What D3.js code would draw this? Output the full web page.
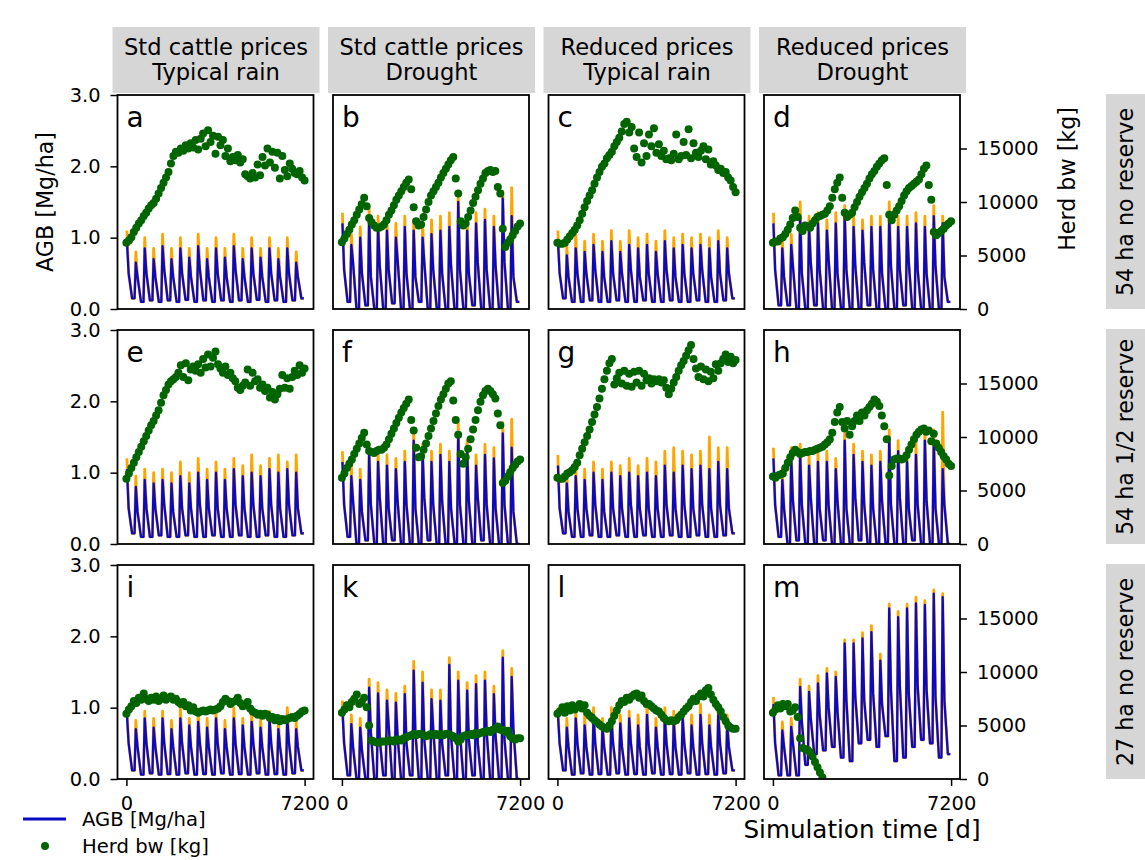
<!DOCTYPE html>
<html>
<head>
<meta charset="utf-8">
<script src="https://cdn.jsdelivr.net/npm/d3@7"></script>
<style>
  body { margin: 0; background: #fff; }
  text { font-family: "DejaVu Sans", sans-serif; fill: #000; }
</style>
</head>
<body>
<svg id="chart" width="1145" height="860"></svg>
<script>
// column / row headers
var colTitles = [["Std cattle prices", "Typical rain"], ["Std cattle prices", "Drought"],
                 ["Reduced prices", "Typical rain"], ["Reduced prices", "Drought"]];
var rowTitles = ["54 ha no reserve", "54 ha 1/2 reserve", "27 ha no reserve"];
var panelLetters = ["a", "b", "c", "d", "e", "f", "g", "h", "i", "k", "l", "m"];
var agbTicks = [0, 1, 2, 3];
var herdTicks = [0, 5000, 10000, 15000];
var timeTicks = [0, 7200];

// herd body weight [kg], one value every 100 days
var herdA = [6200,6400,6700,7200,7600,8000,8300,8700,9000,9400,
  9700,9900,10300,10800,11300,11800,12300,12800,13600,14300,
  14700,14600,15000,14800,15300,15000,15500,15100,15800,14900,
  15900,16400,15200,16700,15600,16200,14500,16100,15300,15800,
  14300,15000,13800,14200,13900,14400,13700,14000,12600,12400,
  12200,12700,12300,13500,12500,14200,13400,15000,13700,14700,
  13200,14600,12200,14300,13000,12400,13600,13100,12700,12600,
  12900,12300,12000];
var herdB = [6250,6600,7000,7400,7900,8300,8800,9300,9800,10400,
  9600,8500,8100,7800,7600,7600,7700,7900,8300,8800,
  9200,9700,10200,10600,11000,11400,11800,12100,11200,9500,
  8200,7800,7900,8600,9300,10000,10600,11000,11400,11800,
  12300,12700,13100,13500,13900,14200,12200,10800,8200,7800,
  8000,8600,9200,9900,10500,11100,11700,12200,12700,12900,
  13000,12800,12900,11400,10800,7500,5800,6200,6500,6900,
  7300,7700,8000];
var herdC = [6200,6100,6100,6200,6500,6800,7100,7400,7800,8300,
  8900,9500,10100,10600,11100,11700,12300,12800,13300,13600,
  14100,14400,14700,15200,15600,16000,16600,17300,17500,16500,
  17000,15000,14200,16500,13700,15500,14300,16300,15200,16900,
  14600,15400,14300,14800,14000,14100,13900,14500,16300,14000,
  14300,15600,14400,16800,14100,15500,14600,14200,14800,15200,
  14000,14900,13500,13800,13400,13000,13100,12700,12800,12300,
  12000,11400,10900];
var herdD = [6200,6300,6300,6600,6700,7000,7400,7900,8500,9200,
  8600,7600,7300,7800,7700,7600,8000,8300,8600,8700,
  8800,8900,9200,9600,10400,11200,11800,12300,10400,9000,
  8600,8800,9000,9500,10000,10500,10900,11300,11700,12200,
  12600,12900,13300,13600,13900,14100,11600,8800,8300,8800,
  9200,9600,10100,10600,11000,11300,11500,11700,11900,12100,
  12600,13100,13400,11600,10200,7200,6900,7100,7300,7500,
  7800,8000,8200];
var herdE = [6100,6600,7100,7600,8100,8600,9100,9600,10100,10600,
  11100,11500,12000,12500,13200,13900,14400,14900,15200,15400,
  15600,16000,16700,15600,16900,15300,16300,16600,16200,16800,
  16000,17300,16500,17700,16600,17400,18000,16800,16400,16000,
  16600,15800,16000,15500,15200,14600,14400,14800,15100,16300,
  14800,16000,15200,15400,14600,14900,14300,14600,13700,14200,
  13500,14000,14500,15800,14600,15500,14500,15600,16200,15800,
  16700,16000,16400];
var herdF = [6200,6600,7100,7500,7900,8400,8900,9400,9900,10400,
  9300,8700,8600,8500,8700,8800,8800,9000,9300,9800,
  10300,10800,11300,11800,12300,12700,13100,13500,11600,10600,
  9000,8100,8200,8800,9400,10100,10800,11500,12200,12900,
  13500,14000,14500,15000,15200,13400,11600,10200,8400,7500,
  8100,8900,9800,10700,11600,12500,13300,13900,14300,14500,
  14300,14000,13600,12200,11100,5700,5900,6300,6700,7100,
  7400,7700,7900];
var herdG = [6200,6100,6100,6300,6600,6700,6900,7200,7600,8300,
  8900,9500,10100,10700,11400,12100,12800,13600,14500,15400,
  16200,16900,17300,14900,15500,16000,15000,16200,14800,15900,
  14700,16100,15100,16200,14800,15900,15300,15500,15000,15400,
  15200,15400,15100,15300,14600,14000,14500,15100,15600,16200,
  16700,17100,17600,18100,18600,17300,16400,15600,16600,15400,
  16300,15200,16100,15500,16800,16200,16900,17300,17700,17000,
  17500,16900,17200];
var herdH = [6300,6200,6400,6500,6600,7100,7600,8100,8500,8800,
  8600,8400,8500,8600,8600,8700,8700,8800,8900,9000,
  9100,9300,9500,9800,10400,11400,12300,12800,11400,10800,
  11500,10200,11000,11500,12000,11500,12300,12000,12500,12800,
  13100,13500,13300,12900,12000,11000,9800,6400,7300,7900,
  8000,8000,7900,8000,8300,8800,9300,9800,10200,10500,
  10700,10800,10500,10600,9600,10300,9400,9000,8600,8200,
  7900,7500,7300];
var herdI = [6100,6500,6800,7300,7100,7600,7400,8000,7500,7300,
  7600,7400,7700,7300,7500,7800,7400,7600,7700,7400,
  7500,7200,7000,7200,6800,6900,6400,6700,6300,6200,
  6300,6400,6300,6400,6500,6400,6500,6600,6800,7200,
  7500,7300,7000,7200,7300,7600,7100,6800,6900,7200,
  6600,6300,6200,6000,6100,5900,6100,6000,5700,5800,
  5500,5700,5400,5600,5500,5600,5700,5800,5700,5900,
  6100,6300,6400];
var herdK = [6200,6500,6900,6700,7200,7500,7900,7000,7200,7600,
  6700,5000,3600,3500,3400,3400,3500,3500,3500,3600,
  3600,3500,3700,3700,3600,3800,3900,4000,4100,4200,
  4100,4200,4200,4100,4000,4100,4200,4100,4200,4100,
  4200,4100,4200,4200,4100,4000,3800,3500,3700,4000,
  4100,4100,4200,4100,4300,4200,4300,4400,4400,4500,
  4400,4600,4700,4900,4600,4600,4400,4500,4000,3800,
  3700,3800,3800];
var herdL = [6100,6300,6700,6200,6800,6400,6900,6500,6700,7000,
  6600,6900,6200,5900,5700,5500,5300,5100,4900,4800,
  4700,5000,5400,5900,6400,6900,7300,7200,7600,7400,
  7700,7900,8000,7600,7800,7300,7000,7000,6800,6600,
  6400,6300,6000,5700,5500,5400,5500,5400,5500,5800,
  6000,6300,6600,6800,7200,7500,7300,7700,8000,7700,
  8300,8500,7900,7400,7000,6700,6300,5800,5400,5000,
  4800,4700,4700];
var herdM = [6200,6500,6900,6600,7000,6800,7000,6300,6400,6700,
  5800,3800,2900,2800,2700,2500,2100,1600,1100,600,150];

// AGB [Mg/ha], per simulated year: main peak, orange peak, shoulder after the peak, low
var peakA = [0.95,0.65,0.85,0.7,0.88,0.7,0.85,0.72,0.88,0.7,0.85,0.72,0.88,0.7,0.85,0.72,0.85,0.7,0.85,0.65];
var orangeA = [1.1,0.8,1.0,0.85,1.05,0.85,1.0,0.85,1.05,0.85,1.0,0.85,1.05,0.85,1.0,0.85,1.0,0.85,1.0,0.8];
var secondA = [0.5,0.45,0.5,0.45,0.55,0.45,0.5,0.45,0.55,0.45,0.5,0.45,0.55,0.45,0.5,0.45,0.5,0.45,0.5,0.45];
var lowA = [0.15,0.1,0.12,0.1,0.12,0.1,0.13,0.1,0.12,0.1,0.12,0.1,0.12,0.1,0.13,0.1,0.12,0.1,0.12,0.15];

var peakB = [1.2,0.9,1.0,1.25,1.15,1.1,1.0,1.15,1.1,1.0,1.05,1.1,1.15,1.5,1.1,1.2,1.25,1.15,1.55,1.3];
var orangeB = [1.35,1.05,1.15,1.4,1.3,1.25,1.2,1.3,1.25,1.2,1.25,1.3,1.35,1.6,1.3,1.35,1.4,1.3,1.65,1.7];
var secondB = [0.55,0.65,0.5,0.45,0.6,0.55,0.7,0.5,0.45,0.65,0.55,0.5,0.6,0.55,0.5,0.65,0.55,0.6,0.65,0.45];
var lowB = [0.1,0.0,0.05,0.0,0.0,0.08,0.0,0.0,0.1,0.0,0.02,0.0,0.0,0.0,0.05,0.0,0.0,0.0,0.0,0.1];

var peakC = [0.95,0.75,0.85,0.8,0.9,0.8,0.95,0.8,0.9,0.85,0.9,0.8,0.95,0.85,0.9,0.85,0.9,0.85,0.95,0.85];
var orangeC = [1.1,0.9,1.05,0.95,1.05,0.95,1.1,0.95,1.1,1.0,1.05,0.95,1.1,1.0,1.05,1.0,1.05,1.0,1.1,1.0];
var secondC = [0.5,0.45,0.5,0.5,0.55,0.45,0.5,0.5,0.55,0.45,0.5,0.5,0.55,0.45,0.5,0.5,0.55,0.45,0.5,0.5];
var lowC = [0.15,0.1,0.1,0.12,0.1,0.1,0.12,0.1,0.1,0.12,0.1,0.1,0.12,0.1,0.1,0.12,0.1,0.1,0.12,0.15];

var peakD = [1.2,0.85,0.9,1.3,1.15,1.2,1.1,1.2,1.3,1.15,1.1,1.15,1.15,1.3,1.15,1.15,1.2,1.15,1.3,1.2];
var orangeD = [1.35,1.0,1.05,1.5,1.3,1.35,1.25,1.35,1.45,1.3,1.25,1.3,1.3,1.5,1.3,1.3,1.35,1.3,1.45,1.3];
var secondD = [0.55,0.45,0.6,0.5,0.65,0.55,0.7,0.5,0.55,0.6,0.65,0.55,0.5,0.6,0.55,0.65,0.55,0.5,0.6,0.45];
var lowD = [0.05,0.05,0.0,0.0,0.05,0.0,0.0,0.02,0.0,0.0,0.05,0.0,0.0,0.0,0.05,0.0,0.0,0.0,0.0,0.1];

var peakE = [1.05,0.8,0.9,0.85,0.9,0.85,0.95,0.85,1.0,0.9,1.0,0.9,1.05,0.95,1.0,0.95,1.05,1.0,1.05,1.0];
var orangeE = [1.2,0.95,1.05,1.0,1.05,1.0,1.15,1.0,1.2,1.05,1.15,1.05,1.2,1.1,1.25,1.1,1.2,1.25,1.15,1.25];
var secondE = [0.5,0.45,0.5,0.5,0.55,0.45,0.5,0.5,0.55,0.5,0.5,0.5,0.55,0.5,0.55,0.5,0.55,0.5,0.55,0.5];
var lowE = [0.15,0.1,0.1,0.12,0.1,0.1,0.12,0.1,0.1,0.12,0.1,0.1,0.12,0.1,0.1,0.12,0.1,0.1,0.12,0.15];

var peakF = [1.15,0.95,0.9,1.25,1.15,1.1,1.05,1.15,1.45,1.25,1.15,1.25,1.15,1.55,1.3,1.1,1.25,1.2,1.55,1.35];
var orangeF = [1.3,1.1,1.05,1.4,1.3,1.25,1.2,1.3,1.6,1.4,1.3,1.4,1.3,1.7,1.45,1.25,1.4,1.35,1.7,1.75];
var secondF = [0.55,0.6,0.45,0.55,0.65,0.5,0.6,0.55,0.5,0.65,0.55,0.6,0.5,0.55,0.6,0.65,0.55,0.5,0.55,0.45];
var lowF = [0.1,0.0,0.05,0.0,0.0,0.05,0.0,0.0,0.0,0.05,0.0,0.0,0.02,0.0,0.0,0.05,0.0,0.0,0.0,0.0];

var peakG = [1.1,0.85,0.95,0.9,1.0,0.9,1.0,0.95,1.0,0.95,1.0,0.95,1.1,1.0,1.1,1.05,1.1,1.05,1.15,1.05];
var orangeG = [1.25,1.0,1.1,1.05,1.15,1.05,1.15,1.1,1.2,1.1,1.2,1.15,1.3,1.35,1.3,1.25,1.3,1.5,1.35,1.35];
var secondG = [0.5,0.45,0.5,0.5,0.55,0.45,0.5,0.5,0.55,0.5,0.5,0.5,0.55,0.5,0.55,0.5,0.55,0.5,0.55,0.5];
var lowG = [0.15,0.1,0.1,0.12,0.1,0.1,0.12,0.1,0.1,0.12,0.1,0.1,0.12,0.1,0.1,0.12,0.1,0.1,0.12,0.15];

var peakH = [1.2,0.9,1.2,1.25,1.1,1.15,1.15,1.05,1.45,1.25,1.15,1.1,1.15,1.5,1.3,1.15,1.25,1.45,1.45,1.05];
var orangeH = [1.35,1.05,1.35,1.4,1.25,1.3,1.3,1.2,1.55,1.4,1.3,1.25,1.3,1.6,1.45,1.3,1.45,1.6,1.6,1.85];
var secondH = [0.55,0.5,0.6,0.55,0.65,0.5,0.55,0.6,0.5,0.65,0.55,0.5,0.6,0.55,0.65,0.5,0.55,0.6,0.5,0.55];
var lowH = [0.1,0.0,0.05,0.0,0.0,0.05,0.0,0.0,0.0,0.05,0.0,0.0,0.02,0.0,0.0,0.05,0.0,0.0,0.0,0.0];

var peakI = [0.9,0.7,0.85,0.72,0.85,0.7,0.85,0.75,0.8,0.72,0.85,0.7,0.85,0.75,0.8,0.72,0.85,0.7,0.85,0.7];
var orangeI = [1.0,0.82,0.95,0.85,0.95,0.82,1.0,0.85,0.95,0.85,0.95,0.82,1.0,0.85,0.95,0.85,0.95,0.82,1.0,0.82];
var secondI = [0.5,0.45,0.5,0.45,0.5,0.45,0.5,0.45,0.5,0.45,0.5,0.45,0.5,0.45,0.5,0.45,0.5,0.45,0.5,0.45];
var lowI = [0.12,0.06,0.08,0.06,0.07,0.06,0.08,0.06,0.07,0.06,0.08,0.06,0.07,0.06,0.08,0.06,0.07,0.06,0.08,0.12];

var peakK = [0.96,0.77,0.72,1.28,1.2,1.1,1.07,1.19,1.52,1.35,1.12,1.1,1.6,1.38,1.24,1.33,1.38,1.19,1.7,1.43];
var orangeK = [1.1,0.9,0.85,1.4,1.35,1.25,1.2,1.3,1.65,1.5,1.25,1.25,1.7,1.5,1.35,1.45,1.5,1.3,1.8,1.55];
var secondK = [0.5,0.45,0.4,0.65,0.55,0.75,0.6,0.5,0.65,0.55,0.7,0.5,0.6,0.65,0.55,0.5,0.65,0.6,0.55,0.7];
var lowK = [0.05,0.0,0.0,0.0,0.05,0.0,0.0,0.05,0.0,0.0,0.0,0.05,0.0,0.0,0.05,0.0,0.0,0.0,0.0,0.0];

var peakL = [0.9,0.72,0.85,0.75,0.9,0.72,0.85,0.78,0.85,0.75,0.9,0.72,0.85,0.8,0.85,0.75,0.9,0.75,0.9,0.75];
var orangeL = [1.0,0.85,0.95,0.9,1.0,0.85,1.0,0.9,0.95,0.9,1.05,0.85,1.0,0.95,0.95,0.9,1.05,0.9,1.05,0.9];
var secondL = [0.5,0.45,0.5,0.45,0.5,0.45,0.5,0.45,0.5,0.45,0.5,0.45,0.5,0.45,0.5,0.45,0.5,0.45,0.5,0.45];
var lowL = [0.12,0.06,0.08,0.06,0.07,0.06,0.08,0.06,0.07,0.06,0.08,0.06,0.07,0.06,0.08,0.06,0.07,0.06,0.08,0.12];

var peakM = [1.05,0.68,0.73,1.29,1.22,1.34,1.48,1.43,1.9,1.9,1.97,2.06,1.66,2.39,2.27,2.39,2.46,2.44,2.6,2.55];
var orangeM = [1.15,0.8,0.85,1.4,1.3,1.45,1.55,1.5,1.95,1.95,2.05,2.15,1.75,2.45,2.35,2.45,2.55,2.5,2.65,2.6];
var secondM = [0.5,0.45,0.5,0.8,0.85,0.9,1.0,0.95,1.1,1.15,1.1,1.2,1.05,1.25,1.3,1.2,1.3,1.25,1.15,1.1];
var lowM = [0.05,0.05,0.05,0.2,0.35,0.4,0.45,0.3,0.25,0.5,0.55,0.45,0.6,0.25,0.3,0.45,0.55,0.5,0.3,0.35];

var panels = [
  {herd: herdA, peak: peakA, orange: orangeA, second: secondA, low: lowA},
  {herd: herdB, peak: peakB, orange: orangeB, second: secondB, low: lowB},
  {herd: herdC, peak: peakC, orange: orangeC, second: secondC, low: lowC},
  {herd: herdD, peak: peakD, orange: orangeD, second: secondD, low: lowD},
  {herd: herdE, peak: peakE, orange: orangeE, second: secondE, low: lowE},
  {herd: herdF, peak: peakF, orange: orangeF, second: secondF, low: lowF},
  {herd: herdG, peak: peakG, orange: orangeG, second: secondG, low: lowG},
  {herd: herdH, peak: peakH, orange: orangeH, second: secondH, low: lowH},
  {herd: herdI, peak: peakI, orange: orangeI, second: secondI, low: lowI},
  {herd: herdK, peak: peakK, orange: orangeK, second: secondK, low: lowK},
  {herd: herdL, peak: peakL, orange: orangeL, second: secondL, low: lowL},
  {herd: herdM, peak: peakM, orange: orangeM, second: secondM, low: lowM}
];

var svg = d3.select("#chart"),
    colX = [117.5, 333, 548.5, 764],
    rowY = [95, 330, 565],
    pw = 196, ph = 214;

var x = d3.scaleLinear().domain([-360, 7560]).range([0, pw]);
var y = d3.scaleLinear().domain([0, 3]).range([ph, 0]);
var y2 = d3.scaleLinear().domain([0, 20000]).range([ph, 0]);

// AGB vertices for one panel: every year a peak, a shoulder, then the dry-season low
function agbPoints(p, top) {
  var pts = [];
  top.forEach(function(v, i) {
    var t0 = i * 360;
    pts.push([t0 + 20, v]);
    pts.push([t0 + 90, p.second[i]]);
    pts.push([t0 + 230, p.low[i]]);
    pts.push([t0 + 330, p.low[i]]);
  });
  return pts;
}

var line = d3.line()
    .x(function(d) { return x(d[0]); })
    .y(function(d) { return y(d[1]); });

svg.append("defs").append("clipPath").attr("id", "clip")
  .append("rect").attr("width", pw).attr("height", ph);

// column headers
colTitles.forEach(function(t, c) {
  var hg = svg.append("g").attr("transform", "translate(" + colX[c] + ",0)");
  hg.append("rect").attr("x", -5).attr("y", 27).attr("width", pw + 11).attr("height", 66)
    .attr("fill", "#d6d6d6");
  hg.append("text").attr("x", pw / 2 + 0.5).attr("y", 54.5).attr("text-anchor", "middle")
    .style("font-size", "22.6px").text(t[0]);
  hg.append("text").attr("x", pw / 2 + 0.5).attr("y", 79.5).attr("text-anchor", "middle")
    .style("font-size", "22.6px").text(t[1]);
});

// row labels on the right
rowTitles.forEach(function(t, r) {
  svg.append("rect").attr("x", 1106).attr("y", rowY[r] - 1).attr("width", 50).attr("height", ph + 1)
    .attr("fill", "#d6d6d6");
  svg.append("text")
    .attr("transform", "translate(1125," + (rowY[r] + ph / 2) + ") rotate(-90)")
    .attr("text-anchor", "middle").attr("dy", "0.36em")
    .style("font-size", "22.2px").text(t);
});

panels.forEach(function(p, k) {
  var r = Math.floor(k / 4), c = k % 4;
  var g = svg.append("g").attr("transform", "translate(" + colX[c] + "," + rowY[r] + ")");
  var inner = g.append("g").attr("clip-path", "url(#clip)");

  inner.append("path")
      .datum(agbPoints(p, p.orange))
      .attr("fill", "none")
      .attr("stroke", "orange")
      .attr("stroke-width", 2.8)
      .attr("stroke-linejoin", "round")
      .attr("d", line);

  inner.append("path")
      .datum(agbPoints(p, p.peak))
      .attr("fill", "none")
      .attr("stroke", "#0a0ac4")
      .attr("stroke-width", 2.3)
      .attr("stroke-linejoin", "round")
      .attr("d", line);

  inner.selectAll("circle")
      .data(p.herd)
      .enter().append("circle")
      .attr("cx", function(d, i) { return x(i * 100); })
      .attr("cy", function(d) { return y2(d); })
      .attr("r", 4)
      .attr("fill", "darkgreen");

  g.append("rect").attr("width", pw).attr("height", ph)
    .attr("fill", "none").attr("stroke", "#000").attr("stroke-width", 1.8);

  g.append("text").attr("x", 9).attr("y", 32)
    .style("font-size", "28px").text(panelLetters[k]);

  if (c === 0) {
    var ax = g.append("g")
        .call(d3.axisLeft(y).tickValues(agbTicks).tickFormat(d3.format(".1f"))
              .tickSize(7).tickPadding(10));
    styleAxis(ax);
  }
  if (c === 3) {
    var ax2 = g.append("g").attr("transform", "translate(" + pw + ",0)")
        .call(d3.axisRight(y2).tickValues(herdTicks).tickFormat(d3.format("d"))
              .tickSize(7).tickPadding(10));
    styleAxis(ax2);
  }
  if (r === 2) {
    var ax3 = g.append("g").attr("transform", "translate(0," + ph + ")")
        .call(d3.axisBottom(x).tickValues(timeTicks).tickFormat(d3.format("d"))
              .tickSize(7).tickPadding(10));
    styleAxis(ax3);
  }
});

function styleAxis(a) {
  a.select(".domain").remove();
  a.selectAll(".tick line").attr("stroke", "#000").attr("stroke-width", 1.5);
  a.selectAll(".tick text").style("font-size", "19.4px")
    .style("font-family", "DejaVu Sans, sans-serif").attr("fill", "#000");
}

// axis titles
svg.append("text")
  .attr("transform", "translate(45," + (rowY[0] + ph / 2) + ") rotate(-90)")
  .attr("text-anchor", "middle").attr("dy", "0.36em")
  .style("font-size", "22.2px").text("AGB [Mg/ha]");
svg.append("text")
  .attr("transform", "translate(1067,179) rotate(-90)")
  .attr("text-anchor", "middle").attr("dy", "0.36em")
  .style("font-size", "22.2px").text("Herd bw [kg]");
svg.append("text")
  .attr("x", colX[3] + pw / 2).attr("y", 838).attr("text-anchor", "middle")
  .style("font-size", "24.6px").text("Simulation time [d]");

// legend
var lg = svg.append("g");
lg.append("line").attr("x1", 23).attr("x2", 66).attr("y1", 819).attr("y2", 819)
  .attr("stroke", "#0a0ac4").attr("stroke-width", 3);
lg.append("text").attr("x", 82).attr("y", 819).attr("dy", "0.36em")
  .style("font-size", "19.6px").text("AGB [Mg/ha]");
lg.append("circle").attr("cx", 45).attr("cy", 846).attr("r", 4).attr("fill", "darkgreen");
lg.append("text").attr("x", 82).attr("y", 846).attr("dy", "0.36em")
  .style("font-size", "19.6px").text("Herd bw [kg]");
</script>
</body>
</html>
